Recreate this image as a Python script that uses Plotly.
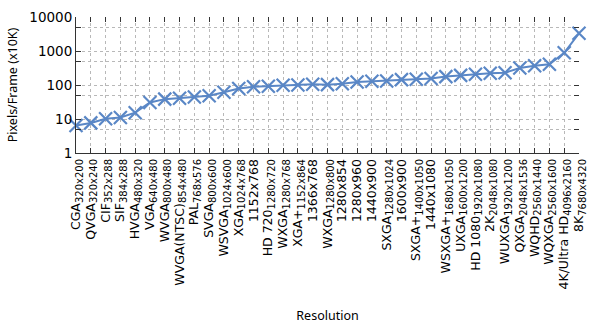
import plotly.graph_objects as go

# Display standards, their pixel dimensions and pixel count per frame (units of 10K pixels)
names = ["CGA", "QVGA", "CIF", "SIF", "HVGA", "VGA", "WVGA", "WVGA(NTSC)", "PAL", "SVGA",
         "WSVGA", "XGA", "", "HD 720", "WXGA", "XGA+", "", "WXGA", "", "",
         "", "SXGA", "", "SXGA+", "", "WSXGA+", "UXGA", "HD 1080", "2K", "WUXGA",
         "QXGA", "WQHD", "WQXGA", "4K/Ultra HD", "8K"]
resolutions = ["320x200", "320x240", "352x288", "384x288", "480x320", "640x480", "800x480",
               "854x480", "768x576", "800x600", "1024x600", "1024x768", "1152x768", "1280x720",
               "1280x768", "1152x864", "1366x768", "1280x800", "1280x854", "1280x960", "1440x900",
               "1280x1024", "1600x900", "1400x1050", "1440x1080", "1680x1050", "1600x1200",
               "1920x1080", "2048x1080", "1920x1200", "2048x1536", "2560x1440", "2560x1600",
               "4096x2160", "7680x4320"]
pixels_10k = [6.4, 7.68, 10.14, 11.06, 15.36, 30.72, 38.4, 40.99, 44.24, 48.0,
              61.44, 78.64, 88.47, 92.16, 98.3, 99.53, 104.91, 102.4, 109.31, 122.88,
              129.6, 131.07, 144.0, 147.0, 155.52, 176.4, 192.0, 207.36, 221.18, 230.4,
              314.57, 368.64, 409.6, 884.74, 3317.76]

y_tickvals = [1, 5, 10, 50, 100, 500, 1000, 5000, 10000]
y_ticktext = ["1", "", "10", "", "100", "", "1000", "", "10000"]

idx = list(range(len(names)))
labels = []
for n, r in zip(names, resolutions):
    if n:
        labels.append(f"{n}<sub><span style='font-size:10px'>{r}</span></sub>")
    else:
        labels.append(r)

blue = "#5a87c6"
axis_col = "#333333"
grid_col = "#b8b8b8"
font = "DejaVu Sans"

fig = go.Figure()
fig.add_trace(go.Scatter(
    x=idx, y=pixels_10k, mode="lines+markers",
    line=dict(color=blue, width=2),
    marker=dict(symbol="x-thin", size=13, line=dict(color=blue, width=2.2)),
    cliponaxis=False, showlegend=False, hoverinfo="skip",
))
# invisible trace so the mirrored tick-only axes are drawn
fig.add_trace(go.Scatter(x=idx, y=pixels_10k, xaxis="x2", yaxis="y2", mode="lines",
                         line=dict(width=0), opacity=0, showlegend=False, hoverinfo="skip"))

fig.update_layout(
    width=597, height=329,
    margin=dict(l=76, r=9, t=15, b=172),
    paper_bgcolor="white", plot_bgcolor="white",
    font=dict(family=font, color="black"),
    xaxis=dict(
        range=[0, len(names) - 1], tickmode="array", tickvals=idx, ticktext=labels,
        tickangle=-90, tickfont=dict(size=12.5, family=font),
        showline=True, linecolor=axis_col, linewidth=1,
        ticks="inside", ticklen=5, tickcolor=axis_col,
        showgrid=True, gridcolor=grid_col, griddash="dot", gridwidth=1,
        zeroline=False,
        title=dict(text="Resolution", font=dict(size=12.5, family="Noto Sans"), standoff=22),
    ),
    xaxis2=dict(
        overlaying="x", side="top", anchor="y", range=[0, len(names) - 1],
        tickmode="array", tickvals=idx, showticklabels=False,
        ticks="inside", ticklen=5, tickcolor=axis_col,
        showgrid=False, showline=False, zeroline=False,
    ),
    yaxis=dict(
        type="log", range=[0, 4], tickmode="array", tickvals=y_tickvals, ticktext=y_ticktext,
        tickfont=dict(size=13.5, family=font),
        showline=True, linecolor=axis_col, linewidth=1,
        ticks="inside", ticklen=5, tickcolor=axis_col,
        showgrid=True, gridcolor=grid_col, griddash="dot", gridwidth=1,
        zeroline=False,
        title=dict(text="Pixels/Frame (x10K)", font=dict(size=12.5, family="Noto Sans"), standoff=8),
    ),
    yaxis2=dict(
        overlaying="y", side="right", anchor="x", type="log", range=[0, 4],
        tickmode="array", tickvals=y_tickvals, showticklabels=False,
        ticks="inside", ticklen=5, tickcolor=axis_col,
        showgrid=False, showline=False, zeroline=False,
    ),
)

fig.write_html("out.html")
